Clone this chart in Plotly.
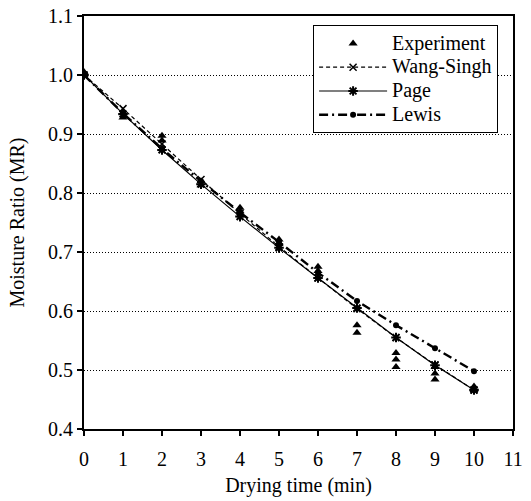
import plotly.graph_objects as go

exp_t = [0, 0, 1, 1, 2, 2, 3, 3, 4, 4, 5, 5, 6, 6, 7, 7, 8, 8, 8, 9, 9, 9, 10, 10]
exp_mr = [1.0, 1.005, 0.935, 0.928, 0.897, 0.889, 0.820, 0.813, 0.775, 0.769, 0.721, 0.714,
          0.675, 0.668, 0.576, 0.563, 0.529, 0.518, 0.505, 0.505, 0.494, 0.484, 0.472, 0.466]

model_t = [0, 1, 2, 3, 4, 5, 6, 7, 8, 9, 10]
wang_singh = [1.0, 0.943, 0.883, 0.823, 0.765, 0.709, 0.656, 0.604, 0.555, 0.509, 0.466]
page = [1.0, 0.934, 0.873, 0.815, 0.760, 0.707, 0.656, 0.605, 0.555, 0.508, 0.466]
lewis = [1.0, 0.935, 0.875, 0.820, 0.767, 0.717, 0.665, 0.617, 0.576, 0.537, 0.498]

series_names = ["Experiment", "Wang-Singh", "Page", "Lewis"]
x_ticks = list(range(0, 12))
y_ticks = [0.4, 0.5, 0.6, 0.7, 0.8, 0.9, 1.0, 1.1]

FONT = "Liberation Serif"


def leg(name):
    return "<span style='font-size:20px'>" + name + "</span>"


fig = go.Figure()
fig.add_trace(go.Scatter(x=exp_t, y=exp_mr, mode="markers", name=leg(series_names[0]),
                         marker=dict(symbol="triangle-up", size=8, color="black")))
fig.add_trace(go.Scatter(x=model_t, y=wang_singh, mode="lines+markers", name=leg(series_names[1]),
                         line=dict(color="black", width=1.2, dash="4px,3px"),
                         marker=dict(symbol="x-thin-open", size=7, line=dict(color="black", width=1.5))))
fig.add_trace(go.Scatter(x=model_t, y=page, mode="lines+markers", name=leg(series_names[2]),
                         line=dict(color="black", width=1.2),
                         marker=dict(symbol="asterisk-open", size=8, line=dict(color="black", width=2))))
fig.add_trace(go.Scatter(x=model_t, y=lewis, mode="lines+markers", name=leg(series_names[3]),
                         line=dict(color="black", width=2.4, dash="9px,4px,2px,4px"),
                         marker=dict(symbol="circle", size=6, color="black")))

fig.update_layout(
    width=531, height=501,
    margin=dict(l=84, r=18, t=16, b=72),
    paper_bgcolor="white", plot_bgcolor="white",
    font=dict(family=FONT, size=20, color="black"),
    showlegend=True,
    legend=dict(x=0.534, y=0.977, xanchor="left", yanchor="top",
                bgcolor="white", bordercolor="black", borderwidth=1,
                font=dict(family=FONT, size=16), tracegroupgap=0,
                itemwidth=68),
)
fig.update_xaxes(range=[0, 11], tickvals=x_ticks, ticks="outside", ticklen=5,
                 tickwidth=2, tickcolor="black", ticklabelstandoff=6, automargin=False,
                 showline=True, linecolor="black", linewidth=2, mirror=True,
                 showgrid=False, zeroline=False,
                 title=dict(text="Drying time (min)", font=dict(size=20, family=FONT), standoff=9))
fig.update_yaxes(range=[0.4, 1.1], tickvals=y_ticks, tickformat=".1f", ticks="outside",
                 ticklen=5, tickwidth=2, tickcolor="black", automargin=False,
                 showline=True, linecolor="black", linewidth=2, mirror=True,
                 showgrid=True, gridcolor="black", griddash="1px,2px", gridwidth=1,
                 zeroline=False,
                 title=dict(text="Moisture Ratio (MR)", font=dict(size=20, family=FONT), standoff=18))

fig.write_html("out.html")
